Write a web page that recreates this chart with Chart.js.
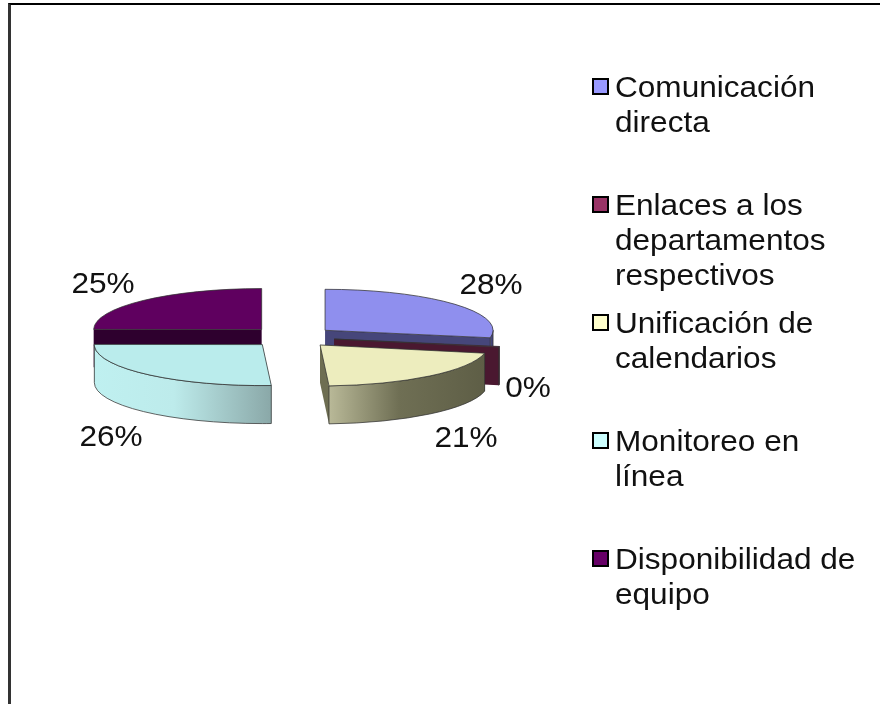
<!DOCTYPE html>
<html lang="es">
<head>
<meta charset="utf-8">
<title>Pie 3D</title>
<style>
  html, body { margin: 0; padding: 0; background: #fff; }
  #wrap { position: relative; width: 880px; height: 704px; overflow: hidden; filter: blur(0.7px); }
  #frame { position: absolute; left: 8px; top: 3px; right: -4px; bottom: -4px; border-top: 2px solid #000; border-left: 3px solid #333; }
  canvas { display: block; }
</style>
<script src="https://cdn.jsdelivr.net/npm/chart.js@4/dist/chart.umd.min.js"></script>
</head>
<body>
<div id="wrap">
  <canvas id="pie3d" width="880" height="704"></canvas>
  <div id="frame"></div>
</div>
<script>
// === DATA ===
const categories = ['Comunicación directa', 'Enlaces a los departamentos respectivos', 'Unificación de calendarios', 'Monitoreo en línea', 'Disponibilidad de equipo'];
const values = [28, 0.3, 21, 26, 25];
const legendLines = [['Comunicación', 'directa'], ['Enlaces a los', 'departamentos', 'respectivos'], ['Unificación de', 'calendarios'], ['Monitoreo en', 'línea'], ['Disponibilidad de', 'equipo']];

// === STYLES ===
const legendColors = ['#9999FF', '#993366', '#FFFFCC', '#CCFFFF', '#660066'];
const topColors = ['#8F8FEE', '#8F2F5F', '#EDEDBE', '#BAECEC', '#5F005F'];
const sideColors = ['#46467A', '#4A1830', '#6E6E52', '#8FB0B0', '#2E002E'];
const rimFrom = ['#46467A', '#4A1830', '#B9B998', '#BFF0F0', '#2E002E'];
const rimMid = ['#46467A', '#4A1830', '#6F6F54', '#BDEBEB', '#2E002E'];
const rimTo = ['#46467A', '#4A1830', '#5E5E46', '#8AA8A8', '#2E002E'];
const drawOrder = [4, 0, 1, 3, 2];
const labelAnchors = [[491, 294], [528, 397], [466, 447], [111, 446], [103, 293]];

const squash = 0.244;     // vertical flattening of the pie
const explode = 43;       // how far each slice moves out from the centre
const depth = 38;         // thickness of the pie in px
const textStretch = 1.07; // the text in the picture is a bit wider than normal
const fontFace = '"Liberation Sans", Arial, sans-serif';

// one slice: side faces, rim, then the top through the arc element itself
function drawSlice(ctx, arc, i) {
  const a0 = arc.startAngle;
  const a1 = arc.endAngle;
  const mid = (a0 + a1) / 2;
  const r = arc.outerRadius;
  const ry = r * squash;
  const ox = arc.x + Math.cos(mid) * explode;
  const oy = arc.y + Math.sin(mid) * explode * squash;

  // radial cut faces
  ctx.fillStyle = sideColors[i];
  [a0, a1].forEach(function(a) {
    const ex = ox + Math.cos(a) * r;
    const ey = oy + Math.sin(a) * ry;
    ctx.beginPath();
    ctx.moveTo(ox, oy);
    ctx.lineTo(ex, ey);
    ctx.lineTo(ex, ey + depth);
    ctx.lineTo(ox, oy + depth);
    ctx.closePath();
    ctx.fill();
  });

  // outer rim, only the part that faces the viewer
  const t0 = Math.max(a0, 0);
  const t1 = Math.min(a1, Math.PI);
  if (t1 > t0) {
    const xa = ox + Math.cos(t1) * r;
    const xb = ox + Math.cos(t0) * r;
    const grad = ctx.createLinearGradient(xa, 0, xb, 0);
    grad.addColorStop(0, rimFrom[i]);
    grad.addColorStop(0.45, rimMid[i]);
    grad.addColorStop(1, rimTo[i]);
    ctx.fillStyle = grad;
    ctx.beginPath();
    ctx.ellipse(ox, oy, r, ry, 0, t0, t1);
    ctx.ellipse(ox, oy + depth, r, ry, 0, t1, t0, true);
    ctx.closePath();
    ctx.fill();
    ctx.strokeStyle = 'rgba(50,50,50,0.75)';
    ctx.lineWidth = 1;
    ctx.stroke();
  }

  // top face
  ctx.save();
  ctx.translate(ox, oy);
  ctx.scale(1, squash);
  ctx.translate(-arc.x, -arc.y);
  arc.draw(ctx);
  ctx.restore();

  ctx.beginPath();
  ctx.moveTo(ox, oy);
  ctx.ellipse(ox, oy, r, ry, 0, a0, a1);
  ctx.closePath();
  ctx.strokeStyle = 'rgba(50,50,50,0.75)';
  ctx.lineWidth = 1;
  ctx.stroke();
}

function stretchedText(ctx, text, x, y, align) {
  ctx.save();
  ctx.translate(x, y);
  ctx.scale(textStretch, 1);
  ctx.textAlign = align;
  ctx.textBaseline = 'alphabetic';
  ctx.fillText(text, 0, 0);
  ctx.restore();
}

// === PLUGIN ===
const pie3dPlugin = {
  id: 'pie3d',
  beforeDatasetDraw: function(chart, args) {
    const ctx = chart.ctx;
    ctx.save();
    drawOrder.forEach(function(i) {
      drawSlice(ctx, args.meta.data[i], i);
    });
    ctx.restore();
    return false; // the slices are already drawn
  },
  afterDraw: function(chart) {
    const ctx = chart.ctx;
    const total = values.reduce(function(a, b) { return a + b; }, 0);
    ctx.save();
    ctx.fillStyle = '#111';
    ctx.font = '29.5px ' + fontFace;

    // percent labels
    values.forEach(function(v, i) {
      const text = Math.round(v / total * 100) + '%';
      stretchedText(ctx, text, labelAnchors[i][0], labelAnchors[i][1], 'center');
    });

    // legend, every entry starts 118px under the one before
    legendLines.forEach(function(lines, i) {
      const top = 78 + i * 118;
      ctx.fillStyle = legendColors[i];
      ctx.fillRect(593, top + 1, 15, 15);
      ctx.strokeStyle = '#000';
      ctx.lineWidth = 2;
      ctx.strokeRect(593, top + 1, 15, 15);
      ctx.fillStyle = '#111';
      lines.forEach(function(line, j) {
        stretchedText(ctx, line, 615, top + 19 + j * 35, 'left');
      });
    });
    ctx.restore();
  }
};

// === CHART ===
new Chart(document.getElementById('pie3d'), {
  type: 'pie',
  data: {
    labels: categories,
    datasets: [{
      data: values,
      backgroundColor: topColors,
      borderWidth: 0
    }]
  },
  options: {
    responsive: false,
    animation: false,
    events: [],
    layout: {
      padding: { left: 124, right: 420, top: 169, bottom: 199 }
    },
    plugins: {
      legend: { display: false },
      tooltip: { enabled: false }
    }
  },
  plugins: [pie3dPlugin]
});
</script>
</body>
</html>
